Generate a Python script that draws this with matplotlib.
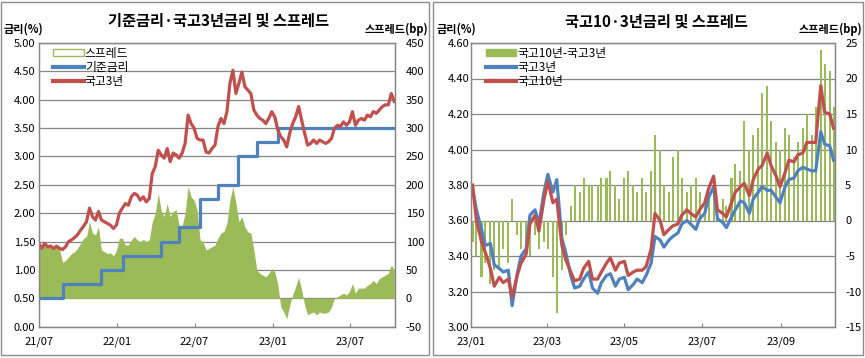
import matplotlib
matplotlib.use('Agg')
import matplotlib.pyplot as plt
from matplotlib.patches import Rectangle, Patch
from matplotlib.lines import Line2D
import pandas as pd

plt.rcParams['font.family'] = ['Noto Sans CJK KR', 'DejaVu Sans']
plt.rcParams['axes.unicode_minus'] = False

# ---------------- Left chart data (weekly, from 2021-07-01) ----------------
left_start = '2021-07-01'
ktb3_left = [
    1.47, 1.38, 1.47, 1.41, 1.42, 1.38, 1.42, 1.38, 1.36, 1.41,
    1.50, 1.53, 1.57, 1.62, 1.70, 1.77, 1.85, 2.09, 1.94, 1.88,
    2.03, 1.88, 1.85, 1.82, 1.79, 1.73, 1.79, 2.00, 2.09, 2.17,
    2.14, 2.29, 2.35, 2.32, 2.23, 2.29, 2.20, 2.26, 2.70, 2.82,
    3.11, 3.03, 2.97, 3.14, 2.91, 3.06, 3.03, 2.97, 3.06, 3.23,
    3.73, 3.58, 3.50, 3.32, 3.29, 3.29, 3.08, 3.06, 3.14, 3.20,
    3.53, 3.67, 3.58, 3.79, 4.29, 4.52, 4.11, 4.29, 4.49, 4.23,
    4.17, 4.11, 3.82, 3.73, 3.67, 3.64, 3.58, 3.67, 3.79, 3.70,
    3.47, 3.35, 3.29, 3.17, 3.41, 3.58, 3.70, 3.88, 3.64, 3.41,
    3.20, 3.23, 3.29, 3.23, 3.29, 3.26, 3.23, 3.26, 3.32, 3.50,
    3.55, 3.53, 3.61, 3.55, 3.61, 3.79, 3.55, 3.64, 3.67, 3.64,
    3.73, 3.70, 3.79, 3.76, 3.82, 3.88, 3.91, 3.91, 4.11, 3.97,
]
spread_left = [
    97, 88, 96, 91, 92, 88, 91, 86, 63, 67,
    73, 79, 82, 88, 97, 106, 109, 135, 115, 112,
    126, 85, 82, 79, 80, 75, 84, 106, 106, 94,
    94, 103, 109, 103, 100, 104, 100, 103, 135, 150,
    185, 155, 144, 167, 144, 153, 156, 128, 128, 150,
    197, 179, 173, 156, 103, 100, 85, 88, 91, 94,
    106, 115, 118, 133, 173, 197, 168, 135, 144, 126,
    117, 115, 85, 50, 44, 41, 38, 44, 53, 47,
    25, -15, -24, -36, -12, 6, 21, 37, 15, -12,
    -29, -26, -24, -29, -24, -26, -26, -24, -15, 0,
    3, 6, 9, 6, 12, 26, 9, 18, 18, 18,
    23, 26, 32, 26, 35, 38, 41, 44, 59, 50,
]
base_dates = ['2021-07-01', '2021-08-26', '2021-11-25', '2022-01-14', '2022-04-14',
              '2022-05-26', '2022-07-13', '2022-08-25', '2022-10-12', '2022-11-24',
              '2023-01-13', '2023-10-12']
base_rates = [0.50, 0.75, 1.00, 1.25, 1.50, 1.75, 2.25, 2.50, 3.00, 3.25, 3.50, 3.50]
left_ticks = ['2021-07-01', '2022-01-01', '2022-07-01', '2023-01-01', '2023-07-01']
left_ticklabels = ['21/07', '22/01', '22/07', '23/01', '23/07']

# ---------------- Right chart data (Mon & Thu, 2023) ----------------
ktb3_right = [
    3.78, 3.66, 3.55, 3.46, 3.47, 3.35, 3.33, 3.31, 3.32, 3.12,
    3.30, 3.40, 3.44, 3.63, 3.66, 3.58, 3.76, 3.86, 3.76, 3.83,
    3.50, 3.42, 3.29, 3.22, 3.23, 3.27, 3.31, 3.22, 3.19, 3.25,
    3.29, 3.30, 3.23, 3.27, 3.28, 3.21, 3.24, 3.27, 3.25, 3.29,
    3.36, 3.51, 3.49, 3.45, 3.49, 3.51, 3.53, 3.58, 3.60, 3.58,
    3.55, 3.61, 3.64, 3.73, 3.79, 3.61, 3.59, 3.56, 3.62, 3.66,
    3.71, 3.70, 3.64, 3.72, 3.76, 3.79, 3.77, 3.77, 3.73, 3.70,
    3.79, 3.83, 3.84, 3.88, 3.90, 3.89, 3.88, 3.88, 4.10, 4.03,
    4.02, 3.94,
]
ktb10_right = [
    3.80, 3.60, 3.48, 3.42, 3.33, 3.23, 3.28, 3.25, 3.27, 3.17,
    3.29, 3.36, 3.41, 3.58, 3.63, 3.54, 3.72, 3.82, 3.70, 3.72,
    3.46, 3.38, 3.31, 3.26, 3.27, 3.33, 3.37, 3.27, 3.27, 3.31,
    3.36, 3.39, 3.32, 3.36, 3.37, 3.29, 3.31, 3.32, 3.32, 3.34,
    3.44, 3.64, 3.60, 3.52, 3.55, 3.57, 3.58, 3.63, 3.66, 3.64,
    3.62, 3.66, 3.70, 3.78, 3.85, 3.66, 3.64, 3.62, 3.70, 3.76,
    3.79, 3.81, 3.74, 3.83, 3.89, 3.91, 3.98, 3.91, 3.85, 3.79,
    3.87, 3.94, 3.93, 3.97, 3.98, 4.04, 4.04, 4.04, 4.36, 4.21,
    4.20, 4.12,
]
spread_right = [
    -3, -5, -8, -6, -9, -7, -7, -4, -6, 3,
    -2, -4, -3, -5, -2, -4, -3, -4, -8, -13,
    -7, -2, 2, 5, 4, 6, 5, 5, 5, 6,
    6, 7, 5, 3, 6, 7, 5, 4, 6, 4,
    7, 12, 10, 5, 4, 9, 10, 6, 4, 5,
    6, 4, 2, 4, 5, 2, 3, 2, 6, 8,
    7, 14, 10, 12, 13, 18, 19, 14, 11, 10,
    13, 12, 9, 11, 13, 15, 12, 16, 24, 22,
    21, 16,
]
right_ticks = ['2023-01-01', '2023-03-01', '2023-05-01', '2023-07-01', '2023-09-01']
right_ticklabels = ['23/01', '23/03', '23/05', '23/07', '23/09']

RED = '#C0504D'
BLUE = '#4F81BD'
GREEN = '#9BBB59'
GRID = '#868686'

W, H = 865, 358
fig = plt.figure(figsize=(W / 100, H / 100), dpi=100)


def fx(px):
    return px / W


def fy(py):
    return 1 - py / H


# panel borders
fig.add_artist(Rectangle((fx(1), fy(355)), fx(428), 353 / H, transform=fig.transFigure,
                         fill=False, edgecolor='#8c8c8c', lw=1.0))
fig.add_artist(Rectangle((fx(433), fy(355)), fx(430), 353 / H, transform=fig.transFigure,
                         fill=False, edgecolor='#8c8c8c', lw=1.0))


def style_axes(ax, ax2, left_pad, right_pad):
    for a in (ax, ax2):
        for s in a.spines.values():
            s.set_color(GRID)
            s.set_linewidth(0.9)
    ax.tick_params(axis='y', length=0, pad=left_pad, labelsize=8, colors='black')
    ax2.tick_params(axis='y', length=0, pad=right_pad, labelsize=8, colors='black')
    ax.tick_params(axis='x', direction='in', length=3, color=GRID, pad=7, labelsize=8)
    ax2.yaxis.grid(True, color=GRID, lw=0.9)
    ax2.set_axisbelow(True)
    ax.set_zorder(ax2.get_zorder() + 1)
    ax.patch.set_visible(False)


# ================= Left chart =================
dates_left = pd.date_range(left_start, periods=len(ktb3_left), freq='7D')
axL = fig.add_axes([fx(38.7), fy(326.7), fx(394.7 - 38.7), (326.7 - 43) / H])
axL2 = axL.twinx()
axL2.fill_between(dates_left, 0, spread_left, color=GREEN, lw=0)
axL.plot(pd.to_datetime(base_dates), base_rates, drawstyle='steps-post', color=BLUE, lw=2.3)
axL.plot(dates_left, ktb3_left, color=RED, lw=2.3)
axL.set_xlim(pd.Timestamp('2021-07-01'), pd.Timestamp('2023-10-13'))
axL.set_ylim(0, 5)
axL2.set_ylim(-50, 450)
axL.set_yticks([i * 0.5 for i in range(11)])
axL.set_yticklabels([f'{i * 0.5:.2f}' for i in range(11)])
axL2.set_yticks(list(range(-50, 451, 50)))
axL.set_xticks(pd.to_datetime(left_ticks))
axL.set_xticklabels(left_ticklabels)
style_axes(axL, axL2, 2.5, 8)

handlesL = [Patch(facecolor='white', edgecolor=GREEN, lw=1.0),
            Line2D([], [], color=BLUE, lw=3),
            Line2D([], [], color=RED, lw=3)]
axL.legend(handlesL, ['스프레드', '기준금리', '국고3년'], loc='upper left',
           bbox_to_anchor=(0.03, 1.0), frameon=False, fontsize=8.5,
           handlelength=2.6, handleheight=0.6, handletextpad=0.1, labelspacing=0.12,
           borderpad=0.1, borderaxespad=0.2)

fig.text(fx(219), fy(21), '기준금리·국고3년금리 및 스프레드', ha='center', va='center',
         fontsize=11, fontweight='bold')
fig.text(fx(4), fy(29), '금리(%)', ha='left', va='center', fontsize=8, fontweight='bold')
fig.text(fx(428), fy(29), '스프레드(bp)', ha='right', va='center', fontsize=8, fontweight='bold')

# ================= Right chart =================
dates_right = pd.DatetimeIndex(sorted(
    list(pd.date_range('2023-01-02', '2023-10-12', freq='W-MON')) +
    list(pd.date_range('2023-01-02', '2023-10-12', freq='W-THU'))))
axR = fig.add_axes([fx(471.3), fy(327), fx(834.5 - 471.3), (327 - 43) / H])
axR2 = axR.twinx()
axR2.bar(dates_right, spread_right, width=1.6, color=GREEN, lw=0)
axR.plot(dates_right, ktb3_right, color=BLUE, lw=2.3)
axR.plot(dates_right, ktb10_right, color=RED, lw=2.3)
axR.set_xlim(pd.Timestamp('2023-01-01'), pd.Timestamp('2023-10-12 18:00'))
axR.set_ylim(3.0, 4.6)
axR2.set_ylim(-15, 25)
axR.set_yticks([3.0 + 0.2 * i for i in range(9)])
axR.set_yticklabels([f'{3.0 + 0.2 * i:.2f}' for i in range(9)])
axR2.set_yticks(list(range(-15, 26, 5)))
axR.set_xticks(pd.to_datetime(right_ticks))
axR.set_xticklabels(right_ticklabels)
style_axes(axR, axR2, 1.5, 7.7)

handlesR = [Patch(facecolor=GREEN, edgecolor=GREEN),
            Line2D([], [], color=BLUE, lw=3),
            Line2D([], [], color=RED, lw=3)]
axR.legend(handlesR, ['국고10년-국고3년', '국고3년', '국고10년'], loc='upper left',
           bbox_to_anchor=(0.03, 1.0), frameon=False, fontsize=8.5,
           handlelength=2.6, handleheight=0.6, handletextpad=0.1, labelspacing=0.12,
           borderpad=0.1, borderaxespad=0.2)

fig.text(fx(656), fy(22), '국고10·3년금리 및 스프레드', ha='center', va='center',
         fontsize=11, fontweight='bold')
fig.text(fx(437), fy(29), '금리(%)', ha='left', va='center', fontsize=8, fontweight='bold')
fig.text(fx(862), fy(29), '스프레드(bp)', ha='right', va='center', fontsize=8, fontweight='bold')

fig.savefig('out.png', dpi=100, facecolor='white')
